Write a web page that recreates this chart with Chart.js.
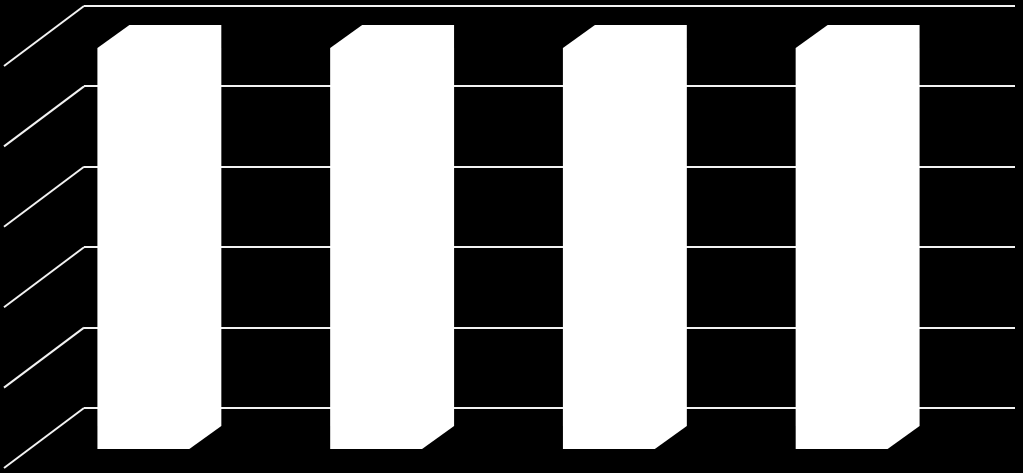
<!DOCTYPE html>
<html>
<head>
<meta charset="utf-8">
<script src="https://cdn.jsdelivr.net/npm/chart.js@4.4.1/dist/chart.umd.min.js"></script>
<style>
  html, body { margin: 0; padding: 0; background: #000; }
  #wrap { width: 1023px; height: 473px; }
</style>
</head>
<body>
<div id="wrap"><canvas id="chart"></canvas></div>
<script>
// DATA
const categories = ["1", "2", "3", "4"];
const values = [100, 100, 100, 100];
const yTicks = [0, 20, 40, 60, 80, 100];

// 3D look: bar back face and front face are pushed left/down from the wall plane
const backShift = { x: -25, y: 19 };
const frontShift = { x: -57, y: 42 };
const wallDiag = { x: -80, y: 60 };

const bars3d = {
  id: "bars3d",
  beforeDatasetsDraw(chart) {
    // diagonal side-wall lines, one per gridline
    const ctx = chart.ctx;
    const y = chart.scales.y;
    const left = chart.chartArea.left;
    ctx.save();
    ctx.strokeStyle = "#f2f2f2";
    ctx.lineWidth = 2;
    yTicks.forEach(t => {
      const py = y.getPixelForValue(t);
      ctx.beginPath();
      ctx.moveTo(left, py);
      ctx.lineTo(left + wallDiag.x, py + wallDiag.y);
      ctx.stroke();
    });
    ctx.restore();
  },
  afterDatasetsDraw(chart) {
    const ctx = chart.ctx;
    const meta = chart.getDatasetMeta(0);
    ctx.save();
    ctx.fillStyle = "#ffffff";
    meta.data.forEach(bar => {
      const L = bar.x - bar.width / 2;
      const R = bar.x + bar.width / 2;
      const T = bar.y;
      const B = bar.base;
      ctx.beginPath();
      ctx.moveTo(L + frontShift.x, T + frontShift.y);
      ctx.lineTo(L + backShift.x, T + backShift.y);
      ctx.lineTo(R + backShift.x, T + backShift.y);
      ctx.lineTo(R + backShift.x, B + backShift.y);
      ctx.lineTo(R + frontShift.x, B + frontShift.y);
      ctx.lineTo(L + frontShift.x, B + frontShift.y);
      ctx.closePath();
      ctx.fill();
    });
    ctx.restore();
  }
};

new Chart(document.getElementById("chart"), {
  type: "bar",
  data: {
    labels: categories,
    datasets: [{
      data: values,
      backgroundColor: "rgba(0,0,0,0)",
      borderWidth: 0,
      barPercentage: 0.395,
      categoryPercentage: 1
    }]
  },
  options: {
    responsive: true,
    maintainAspectRatio: false,
    animation: false,
    layout: { padding: { left: 84, right: 8, top: 6, bottom: 65 } },
    plugins: {
      legend: { display: false },
      tooltip: { enabled: false }
    },
    scales: {
      x: {
        display: false
      },
      y: {
        min: 0,
        max: 100,
        afterBuildTicks(scale) {
          scale.ticks = yTicks.map(v => ({ value: v }));
        },
        grid: { color: "#f2f2f2", lineWidth: 2, drawTicks: false },
        border: { display: false },
        ticks: { display: false }
      }
    }
  },
  plugins: [bars3d]
});
</script>
</body>
</html>
